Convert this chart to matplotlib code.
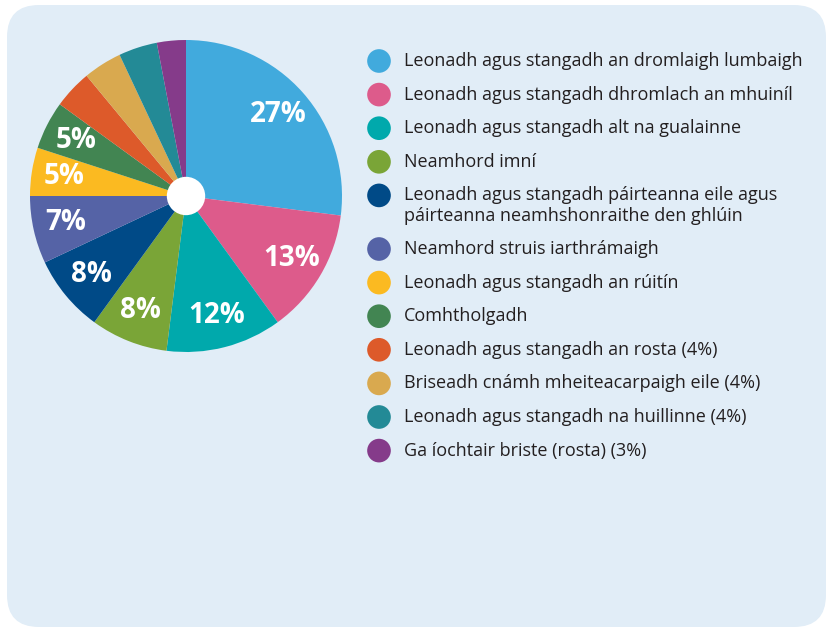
import matplotlib.pyplot as plt
from matplotlib.patches import FancyBboxPatch, Circle

plt.rcParams['font.family'] = ['Open Sans', 'DejaVu Sans']

labels = [
    'Leonadh agus stangadh an dromlaigh lumbaigh',
    'Leonadh agus stangadh dhromlach an mhuiníl',
    'Leonadh agus stangadh alt na gualainne',
    'Neamhord imní',
    'Leonadh agus stangadh páirteanna eile agus\npáirteanna neamhshonraithe den ghlúin',
    'Neamhord struis iarthrámaigh',
    'Leonadh agus stangadh an rúitín',
    'Comhtholgadh',
    'Leonadh agus stangadh an rosta (4%)',
    'Briseadh cnámh mheiteacarpaigh eile (4%)',
    'Leonadh agus stangadh na huillinne (4%)',
    'Ga íochtair briste (rosta) (3%)',
]
values = [27, 13, 12, 8, 8, 7, 5, 5, 4, 4, 4, 3]
pct_text = ['27%', '13%', '12%', '8%', '8%', '7%', '5%', '5%', '', '', '', '']
colours = ['#41aadd', '#dd5b8b', '#00a9ac', '#7aa537', '#004a87', '#5563a6',
           '#fbba21', '#428552', '#dd5a2a', '#d9a94f', '#238a96', '#853b8a']

W, H = 828, 628
fig = plt.figure(figsize=(W / 100, H / 100), dpi=100)
fig.patch.set_facecolor('white')

# background panel in pixel coordinates
bg = fig.add_axes([0, 0, 1, 1])
bg.set_xlim(0, W)
bg.set_ylim(H, 0)
bg.axis('off')
bg.add_patch(FancyBboxPatch((7, 5), 819, 622,
                            boxstyle='round,pad=0,rounding_size=32',
                            facecolor='#e1edf7', edgecolor='none'))

# legend drawn by hand
y = 61
for lab, col in zip(labels, colours):
    bg.scatter([379], [y], s=290, color=col, edgecolors='none', zorder=3)
    lines = lab.split('\n')
    for i, line in enumerate(lines):
        bg.text(404, y + i * 21, line, fontsize=13, color='#231f20',
                va='center', ha='left')
    y += 33.6 + 20 * (len(lines) - 1)

# pie
cx, cy, r = 186, 196, 156
ax = fig.add_axes([(cx - r) / W, 1 - (cy + r) / H, 2 * r / W, 2 * r / H])
wedges, texts = ax.pie(values, colors=colours, startangle=90, counterclock=False,
                       labels=pct_text, labeldistance=0.79,
                       wedgeprops=dict(linewidth=0),
                       textprops=dict(color='white', fontsize=20, fontweight='bold',
                                      ha='center', va='center'))
ax.add_patch(Circle((0, 0), 0.123, facecolor='white', edgecolor='none', zorder=5))
ax.set_xlim(-1, 1)
ax.set_ylim(-1, 1)
ax.set_aspect('equal')
ax.axis('off')

plt.savefig('out.png', dpi=100)
